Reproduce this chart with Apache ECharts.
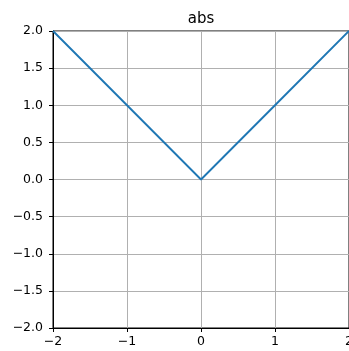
<!DOCTYPE html>
<html><head><meta charset="utf-8">
<script src="https://cdn.jsdelivr.net/npm/echarts@6/dist/echarts.min.js"></script>
<style>html,body{margin:0;padding:0;background:#fff}#c{width:349px;height:351px}</style>
</head><body><div id="c"></div>
<script>
const xValues = [-2, -1, 0, 1, 2];
const yValues = [2, 1, 0, 1, 2];
const titleText = 'abs';
const fmt = v => (v < 0 ? '\u2212' : '') + Math.abs(v);
const fmtY = v => (v < 0 ? '\u2212' : '') + Math.abs(v).toFixed(1);
const chart = echarts.init(document.getElementById('c'), null, {renderer: 'canvas'});
chart.setOption({
  animation: false,
  title: {text: titleText, left: 201, top: 12, padding: 0, textAlign: 'center',
    textStyle: {fontFamily: 'DejaVu Sans', fontSize: 15, fontWeight: 'normal', color: '#000'}},
  grid: {left: 53, top: 31, width: 296, height: 297, containLabel: false, outerBoundsMode: 'none',
    show: true, borderColor: '#000', borderWidth: 1, backgroundColor: 'transparent'},
  xAxis: {type: 'value', min: -2, max: 2, interval: 1,
    axisLine: {show: true, onZero: false, lineStyle: {color: '#000', width: 1}},
    axisTick: {show: true, length: 4, lineStyle: {color: '#000'}},
    axisLabel: {formatter: fmt, fontFamily: 'DejaVu Sans', fontSize: 12.5, color: '#000', margin: 7},
    splitLine: {show: true, lineStyle: {color: '#b0b0b0', width: 1}}},
  yAxis: {type: 'value', min: -2, max: 2, interval: 0.5,
    axisLine: {show: true, onZero: false, lineStyle: {color: '#000', width: 1}},
    axisTick: {show: true, length: 4, lineStyle: {color: '#000'}},
    axisLabel: {formatter: fmtY, fontFamily: 'DejaVu Sans', fontSize: 12.5, color: '#000', margin: 10},
    splitLine: {show: true, lineStyle: {color: '#b0b0b0', width: 1}}},
  series: [{type: 'line', data: xValues.map((x, i) => [x, yValues[i]]), showSymbol: false,
    lineStyle: {color: '#1f77b4', width: 1.9}, clip: true}]
});
</script></body></html>
